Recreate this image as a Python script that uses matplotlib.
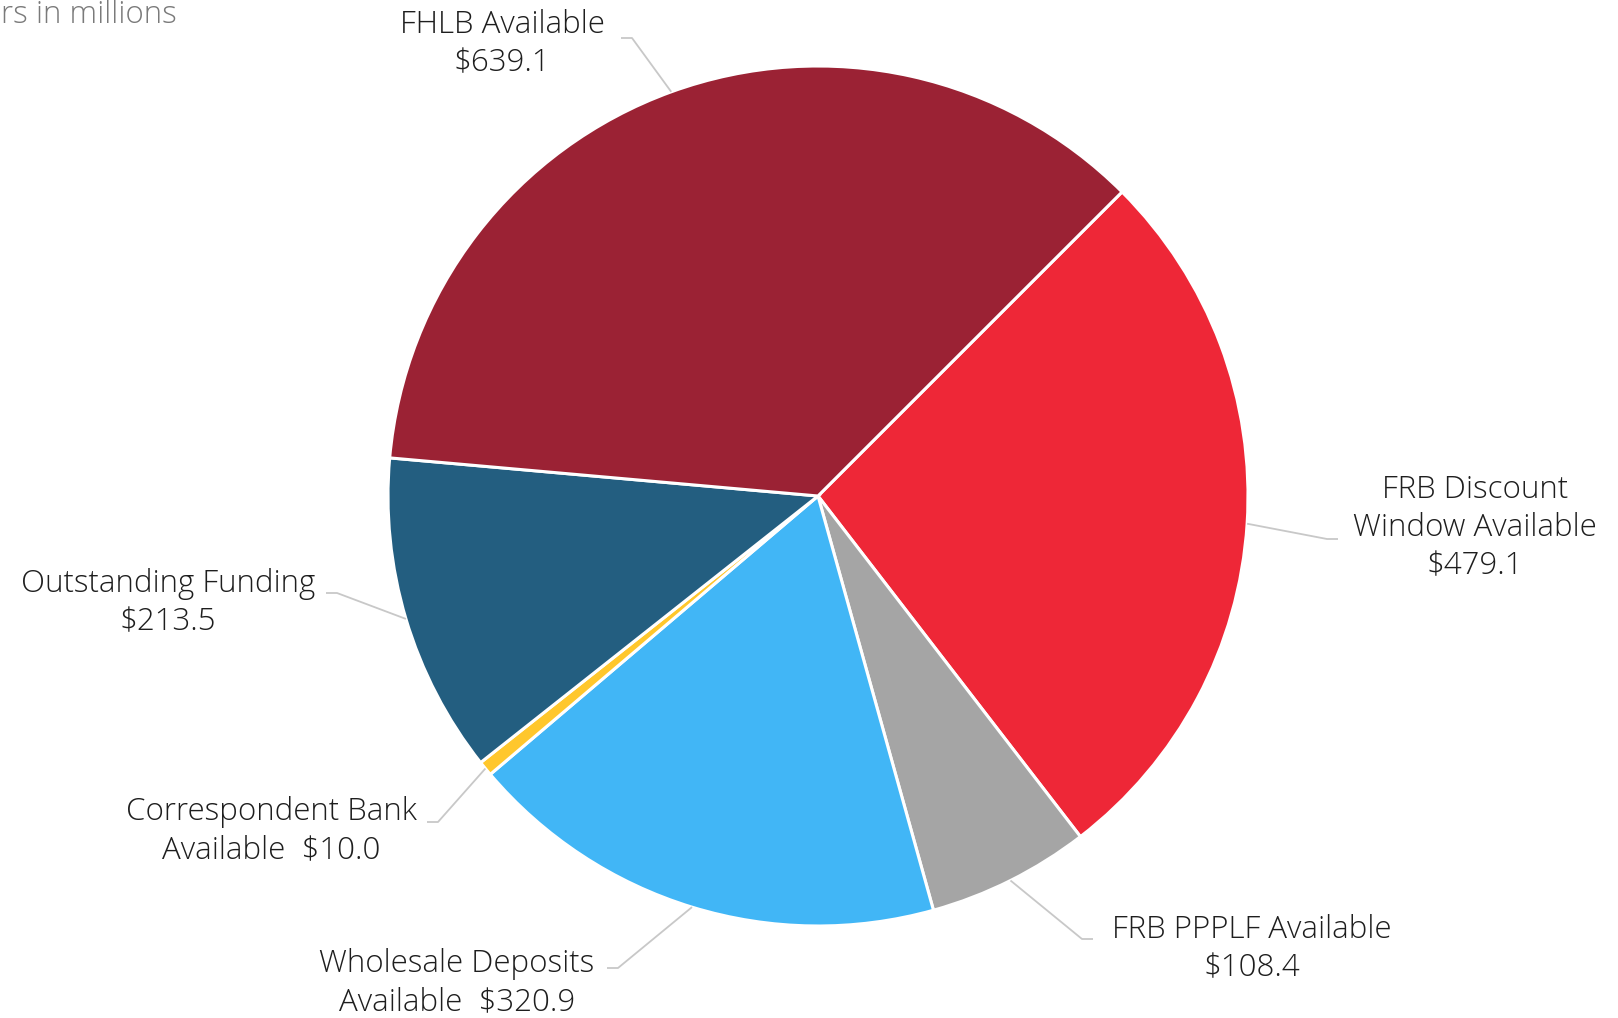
import numpy as np
import matplotlib.pyplot as plt

plt.rcParams['font.family'] = ['Open Sans', 'DejaVu Sans']

# data, in clockwise order starting from the 45 degree line
labels = ['FRB Discount\nWindow Available\n$479.1',
          'FRB PPPLF Available\n$108.4',
          'Wholesale Deposits\nAvailable  $320.9',
          'Correspondent Bank\nAvailable  $10.0',
          'Outstanding Funding\n$213.5',
          'FHLB Available\n$639.1']
values = [479.1, 108.4, 320.9, 10.0, 213.5, 639.1]
colors = ['#EE2737', '#A5A5A5', '#41B6F6', '#FFC72C', '#235E80', '#9B2234']

W, H = 1618, 1018
fig = plt.figure(figsize=(W / 100, H / 100), dpi=100)
ax = fig.add_axes([0, 0, 1, 1])

cx, cy, r = 818, H - 496, 430
wedges, _ = ax.pie(values, colors=colors, startangle=45, counterclock=False,
                   center=(cx, cy), radius=r,
                   wedgeprops=dict(edgecolor='white', linewidth=2.2))
ax.set_xlim(0, W)
ax.set_ylim(0, H)
ax.set_aspect('equal')
ax.axis('off')

# label layout (pixel coords from top): elbow x, elbow y, text x, text y
layout = [
    (1327, 539, 1475, 528),
    (1082, 939, 1252, 949),
    (618, 968, 457, 983),
    (438, 822, 271, 831),
    (337, 593, 168, 603),
    (632, 38, 502, 44),
]

for w, lab, (ex, ey, tx, ty) in zip(wedges, labels, layout):
    ang = np.deg2rad((w.theta1 + w.theta2) / 2)
    sx, sy = cx + r * np.cos(ang), cy + r * np.sin(ang)
    ey = H - ey
    hx = ex + 11 if ex > cx else ex - 11
    ax.plot([sx, ex, hx], [sy, ey, ey], color='#C8C8C8', lw=1.3,
            solid_capstyle='butt')
    ax.text(tx, H - ty, lab, ha='center', va='center', fontsize=22.5,
            fontweight=300, color='#1E1E1E', linespacing=1.27,
            multialignment='center')

# the header is cut at the left edge of the reference
ax.text(1, H - 15, 'rs in millions', ha='left', va='center',
        fontsize=22.5, fontweight=300, color='#7A7A7A')

fig.savefig('out.png', dpi=100)
